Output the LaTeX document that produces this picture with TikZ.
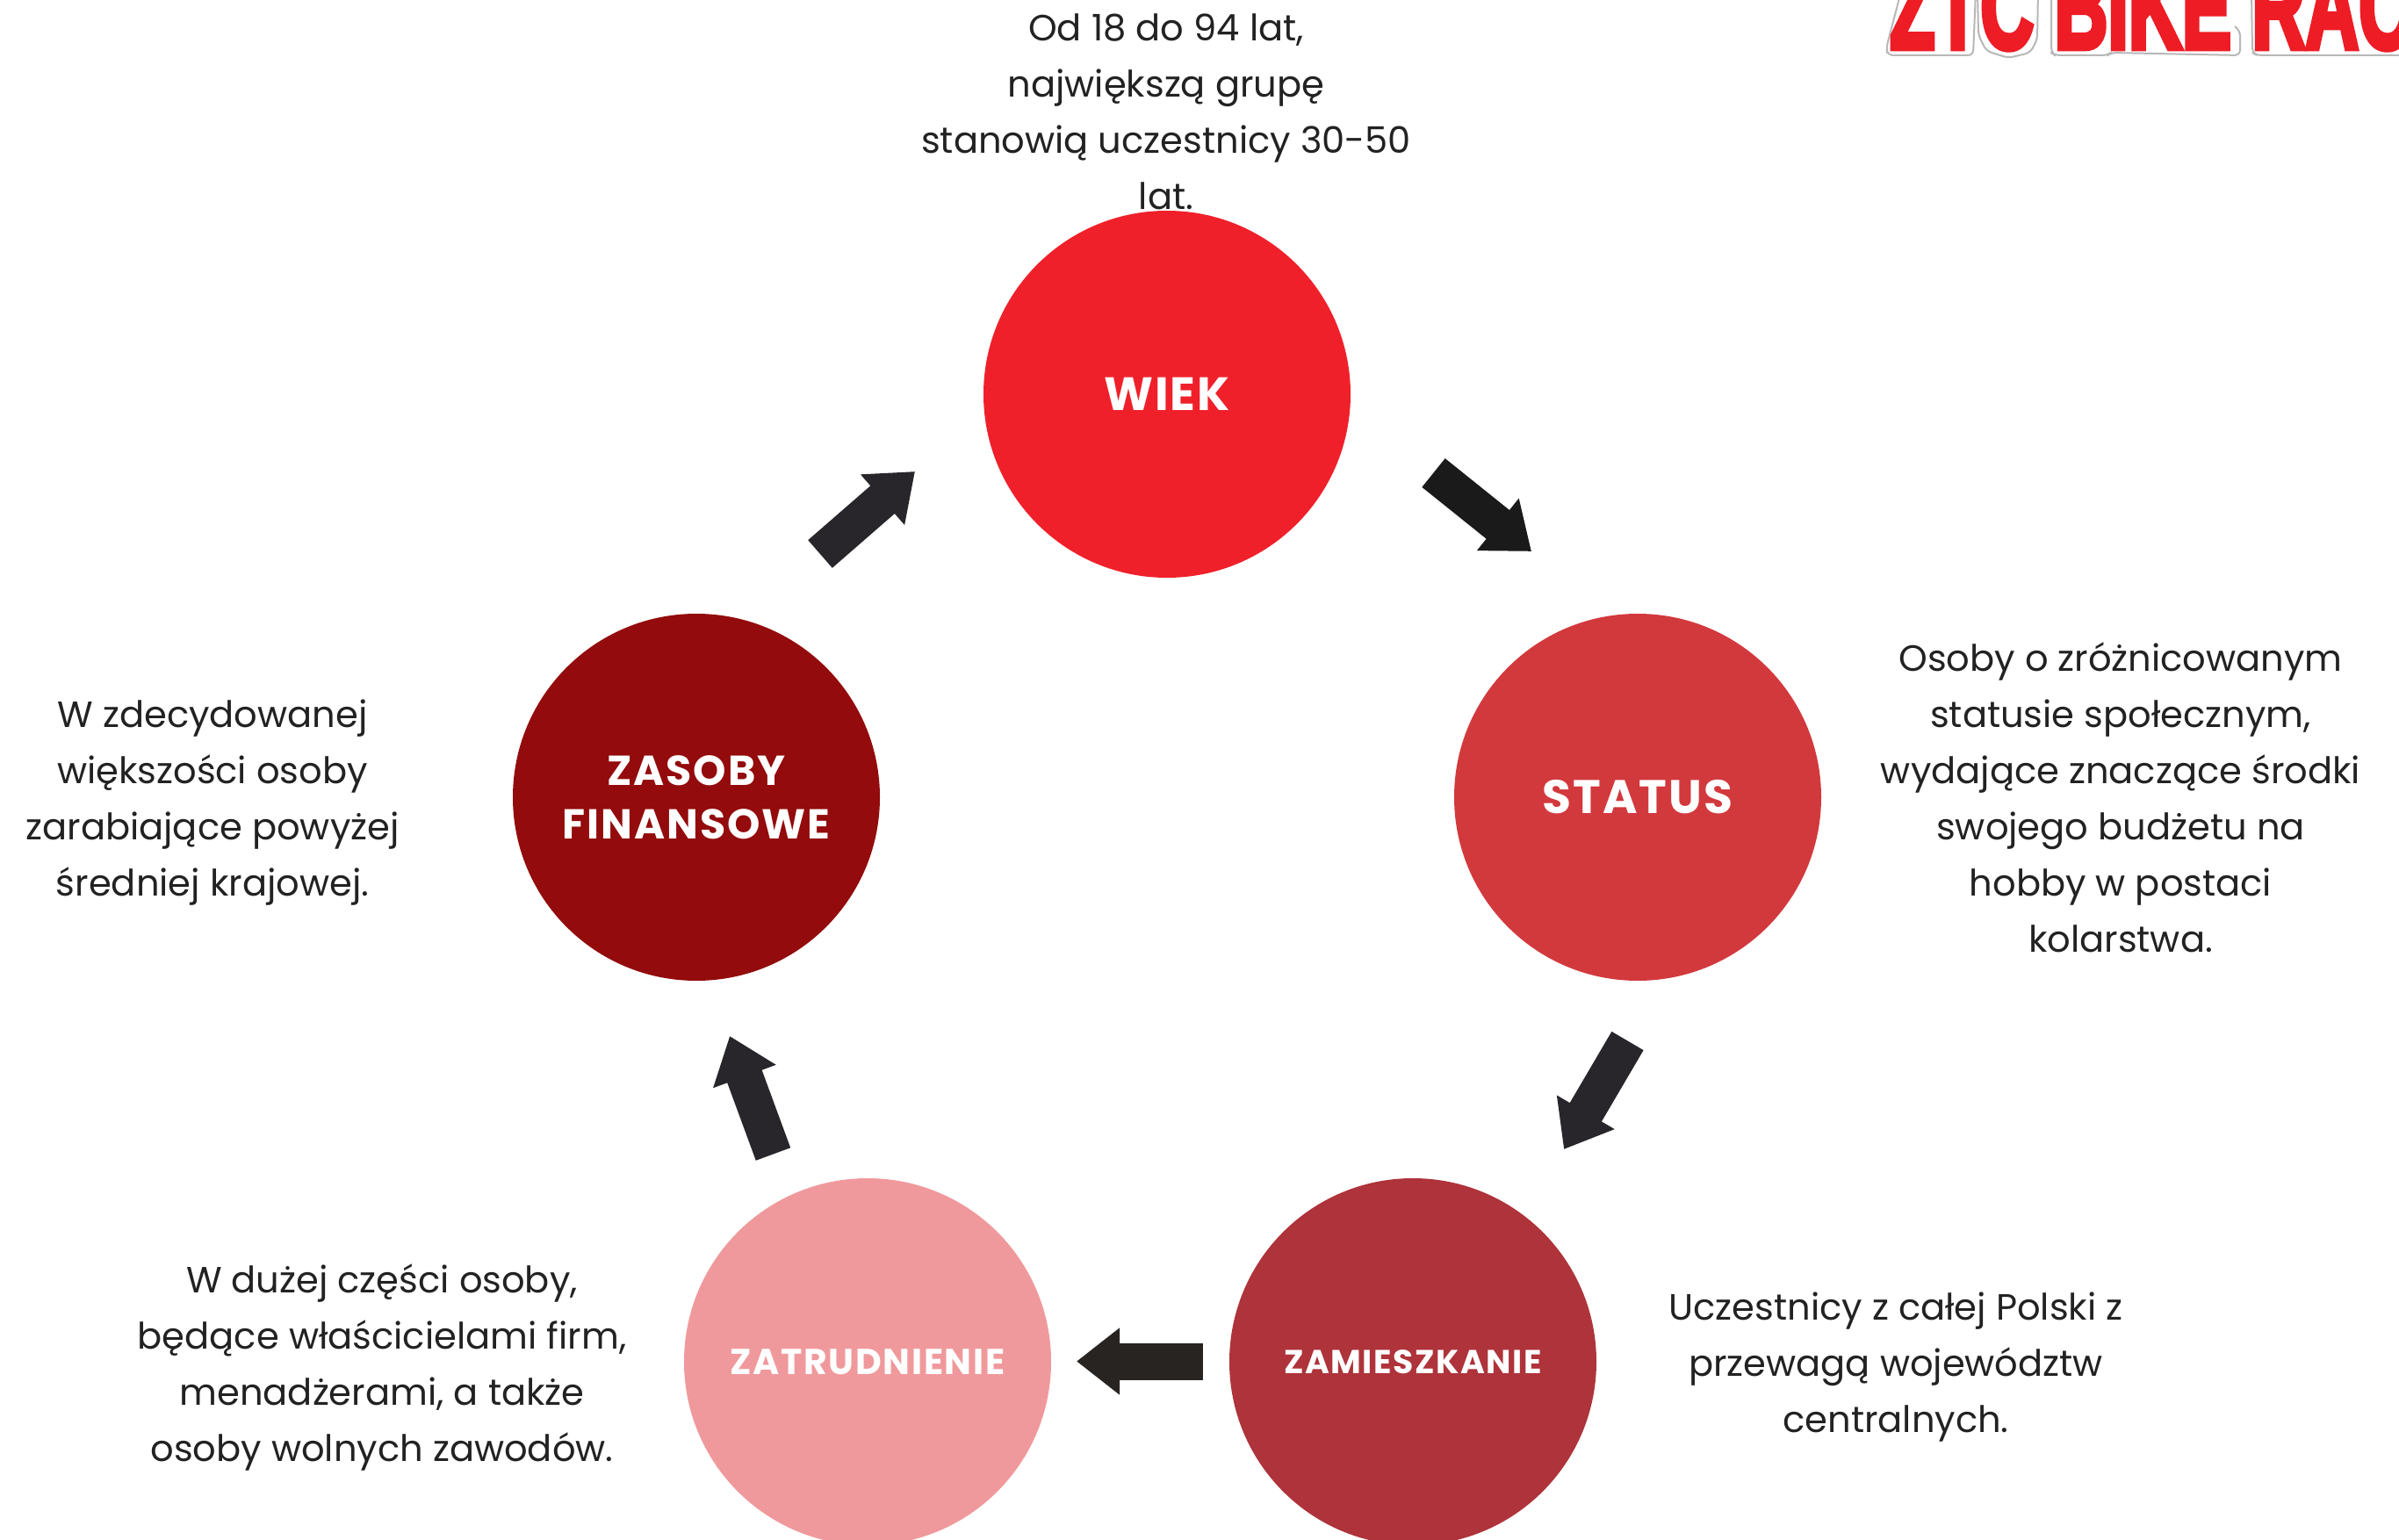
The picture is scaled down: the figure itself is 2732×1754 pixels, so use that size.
\documentclass[tikz,border=0pt]{standalone}
\usepackage{fontspec}
\usetikzlibrary{arrows.meta}
\setmainfont{Poppins}
\newfontfamily\labfont[LetterSpace=4]{Poppins}
\newfontfamily\logofont[FakeBold=5]{Liberation Sans Bold}
\definecolor{cwiek}{HTML}{F0202A}
\definecolor{cstatus}{HTML}{D2393D}
\definecolor{czam}{HTML}{AE333A}
\definecolor{czat}{HTML}{F0999C}
\definecolor{czas}{HTML}{930B0C}
\definecolor{txt}{HTML}{222222}
\definecolor{logored}{HTML}{EE1C25}
\definecolor{arrA}{HTML}{1A1A1A}
\definecolor{arrB}{HTML}{28262A}
\definecolor{arrC}{HTML}{282422}
\tikzset{
  x=0.5pt,y=-0.5pt,
  disc/.style={circle,minimum size=209pt,inner sep=0pt,text=white,align=center},
  lab/.style={font=\labfont\bfseries\fontsize{#1}{30.5}\selectfont},
  body/.style={text=txt,align=center,inner sep=0pt,font=\fontsize{20.8}{32}\selectfont},
  blockarrow/.style={line width=21pt,-{Triangle[width=36.5pt,length=24.5pt]}},
  logoline/.style={draw=black!28,line width=1pt,rounded corners=3pt}
}
\begin{document}
\begin{tikzpicture}
\useasboundingbox (0,0) rectangle (2732,1754);
\fill[white] (0,0) rectangle (2732,1754);
% discs
\node[disc,fill=cwiek,lab=26.6] (wiek) at (1329,449) {WIEK};
\node[disc,fill=cstatus,lab=26.8] (status) at (1865,908) {STATUS};
\node[disc,fill=czam,lab=18.9] (zam) at (1609,1551) {ZAMIESZKANIE};
\node[disc,fill=czat,lab=20.5] (zat) at (988,1551) {ZATRUDNIENIE};
\node[disc,fill=czas,lab=23.8] (zas) at (793,908) {ZASOBY\\FINANSOWE};
% arrows
\coordinate (a1s) at (1632.5,538.5); \coordinate (a1e) at (1744,628);
\coordinate (a2s) at (1853.5,1185.5); \coordinate (a2e) at (1781,1309);
\coordinate (a3s) at (1370,1550.5); \coordinate (a3e) at (1226,1550.5);
\coordinate (a4s) at (880.5,1314.5); \coordinate (a4e) at (831,1180);
\coordinate (a5s) at (934,631); \coordinate (a5e) at (1042,537);
\draw[blockarrow,color=arrA] (a1s) -- (a1e);
\draw[blockarrow,color=arrB] (a2s) -- (a2e);
\draw[blockarrow,color=arrC] (a3s) -- (a3e);
\draw[blockarrow,color=arrB] (a4s) -- (a4e);
\draw[blockarrow,color=arrB] (a5s) -- (a5e);
% texts
\node[body] (t1) at (1328,127) {Od 18 do 94 lat,\\największą grupę\\stanowią uczestnicy 30-50\\lat.};
\node[body] (t2) at (2415,908) {Osoby o zróżnicowanym\\statusie społecznym,\\wydające znaczące środki\\swojego budżetu na\\hobby w postaci\\kolarstwa.};
\node[body] (t3) at (2159,1557) {Uczestnicy z całej Polski z\\przewagą województw\\centralnych.};
\node[body] (t4) at (435,1557) {W dużej części osoby,\\będące właścicielami firm,\\menadżerami, a także\\osoby wolnych zawodów.};
\node[body] (t5) at (242,914) {W zdecydowanej\\większości osoby\\zarabiające powyżej\\średniej krajowej.};
% logo
\draw[logoline] (2165,-10) -- (2148,55) -- (2150,63) -- (2247,63) -- (2250,-10);
\draw[logoline] (2252,-10) -- (2253,40) -- (2262,58) -- (2287,66) -- (2312,60) -- (2320,45) -- (2321,-10);
\draw[logoline] (2336,-10) -- (2336,60) -- (2340,63) -- (2400,63) -- (2404,60) -- (2551,63) -- (2551,35) -- (2545,30);
\draw[logoline] (2564,-10) -- (2565,60) -- (2570,63) -- (2732,63);
\node[anchor=base west,inner sep=0pt,text=logored,font=\logofont\fontsize{68}{68}\selectfont,xscale=0.62] (logo) at (2152,55) {ZTC BIKE RACE};
\end{tikzpicture}
\end{document}
